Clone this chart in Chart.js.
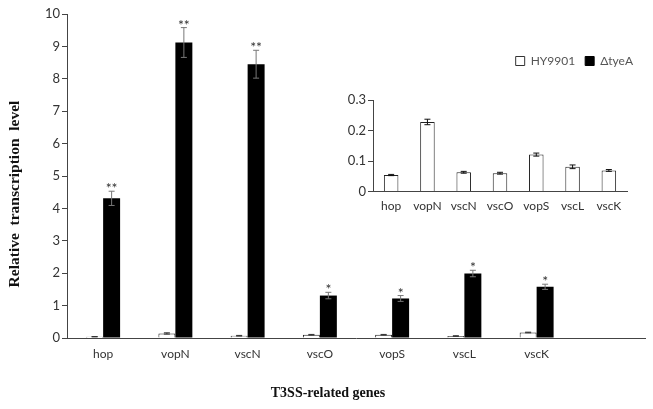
<!DOCTYPE html>
<html>
<head>
<meta charset="utf-8">
<script src="https://cdn.jsdelivr.net/npm/chart.js@4/dist/chart.umd.min.js"></script>
<style>
  body { margin: 0; background: #fff; }
  #wrap { position: relative; width: 653px; height: 409px; }
  #mainChart { position: absolute; left: 0; top: 0; }
  #insetChart { position: absolute; left: 330px; top: 40px; }
</style>
</head>
<body>
<div id="wrap">
  <canvas id="mainChart" width="653" height="409"></canvas>
  <canvas id="insetChart" width="313" height="175"></canvas>
</div>
<script>
// ---------- Data ----------
const genes = ["hop", "vopN", "vscN", "vscO", "vopS", "vscL", "vscK", ""];
const wildMain = [0.04, 0.14, 0.07, 0.10, 0.10, 0.06, 0.17];
const wildMainErr = [0.005, 0.02, 0.01, 0.01, 0.01, 0.01, 0.01];
const mutant = [4.31, 9.12, 8.45, 1.31, 1.22, 1.99, 1.58];
const mutantErr = [0.22, 0.46, 0.43, 0.10, 0.09, 0.10, 0.08];
const stars = ["**", "**", "**", "*", "*", "*", "*"];
const yTicksMain = [0, 1, 2, 3, 4, 5, 6, 7, 8, 9, 10];

const insetGenes = ["hop", "vopN", "vscN", "vscO", "vopS", "vscL", "vscK"];
const insetWild = [0.054, 0.228, 0.063, 0.060, 0.121, 0.081, 0.069];
const insetErr = [0.002, 0.009, 0.003, 0.003, 0.005, 0.006, 0.003];
const yTicksInset = [0, 0.1, 0.2, 0.3];

const TICK_FONT = { family: "Lato, 'Open Sans', sans-serif", size: 13 };
const CAT_FONT = { family: "Lato, 'Open Sans', sans-serif", size: 12 };

// empty axis used only as a spacer in the inset layout
const spacer = (size, pos) => ({
  type: "linear",
  position: pos,
  display: true,
  grid: { display: false, drawTicks: false },
  border: { display: false },
  ticks: { display: false },
  afterFit: (s) => {
    if (pos === "top") s.height = size; else s.width = size;
  }
});

// ---------- Error bars ----------
const errorBars = {
  id: "errorBars",
  afterDatasetsDraw(chart, args, opts) {
    const { ctx } = chart;
    const y = chart.scales.y;
    chart.data.datasets.forEach((ds, i) => {
      if (!ds.errors) return;
      const meta = chart.getDatasetMeta(i);
      meta.data.forEach((bar, j) => {
        const v = ds.data[j], e = ds.errors[j];
        if (v == null || !e) return;
        const top = y.getPixelForValue(v + e);
        const bot = y.getPixelForValue(Math.max(v - e, 0));
        const cap = opts.cap || 3;
        ctx.save();
        ctx.strokeStyle = ds.errorColor || "#555";
        ctx.lineWidth = 1;
        ctx.beginPath();
        ctx.moveTo(bar.x, top); ctx.lineTo(bar.x, bot);
        ctx.moveTo(bar.x - cap, top); ctx.lineTo(bar.x + cap, top);
        ctx.moveTo(bar.x - cap, bot); ctx.lineTo(bar.x + cap, bot);
        ctx.stroke();
        ctx.restore();
      });
    });
  }
};

// ---------- Significance stars + axis titles ----------
const mainDecor = {
  id: "mainDecor",
  afterDatasetsDraw(chart) {
    const { ctx } = chart;
    const y = chart.scales.y;
    const meta = chart.getDatasetMeta(1);
    ctx.save();
    ctx.fillStyle = "#333";
    ctx.font = "14px Lato, sans-serif";
    ctx.textAlign = "center";
    ctx.textBaseline = "alphabetic";
    meta.data.forEach((bar, j) => {
      if (!stars[j]) return;
      const top = y.getPixelForValue(mutant[j] + mutantErr[j]);
      ctx.fillText(stars[j], bar.x, top + 2);
    });
    ctx.restore();

    // axis titles
    ctx.save();
    ctx.fillStyle = "#111";
    ctx.font = "bold 14px 'Liberation Serif', 'Times New Roman', serif";
    ctx.textAlign = "center";
    ctx.textBaseline = "middle";
    ctx.fillText("T3SS-related genes", 328, 393);
    ctx.translate(15, 194);
    ctx.rotate(-Math.PI / 2);
    ctx.font = "bold 15.5px 'Liberation Serif', 'Times New Roman', serif";
    ctx.fillText("Relative  transcription  level", 0, 0);
    ctx.restore();
  }
};

// ---------- Main chart ----------
new Chart(document.getElementById("mainChart"), {
  type: "bar",
  data: {
    labels: genes,
    datasets: [
      {
        label: "HY9901",
        data: wildMain,
        errors: wildMainErr,
        errorColor: "#333",
        backgroundColor: "#fff",
        borderColor: "#222",
        borderWidth: 1
      },
      {
        label: "ΔtyeA",
        data: mutant,
        errors: mutantErr,
        errorColor: "#777",
        backgroundColor: "#000",
        borderColor: "#000",
        borderWidth: 0
      }
    ]
  },
  options: {
    responsive: false,
    animation: false,
    layout: { padding: { top: 14, right: 8, left: 0, bottom: 0 } },
    datasets: { bar: { categoryPercentage: 0.47, barPercentage: 1 } },
    plugins: {
      legend: { display: false },
      tooltip: { enabled: false },
      errorBars: { cap: 3 }
    },
    scales: {
      x: {
        afterFit: (s) => { s.height = 71; },
        grid: { display: false, drawTicks: false },
        border: { display: true, color: "#444", width: 1 },
        ticks: { color: "#333", font: CAT_FONT, padding: 9, maxRotation: 0, autoSkip: false }
      },
      y: {
        min: 0,
        max: 10,
        afterFit: (s) => { s.width = 67; },
        afterBuildTicks: (s) => { s.ticks = yTicksMain.map((v) => ({ value: v })); },
        grid: { drawOnChartArea: false, drawTicks: true, tickLength: 5, color: "#444" },
        border: { display: true, color: "#444", width: 1 },
        ticks: { color: "#333", font: TICK_FONT, padding: 2 }
      }
    }
  },
  plugins: [errorBars, mainDecor]
});

// ---------- Inset chart ----------
new Chart(document.getElementById("insetChart"), {
  type: "bar",
  data: {
    labels: insetGenes,
    datasets: [
      {
        label: "HY9901",
        data: insetWild,
        errors: insetErr,
        errorColor: "#111",
        backgroundColor: "#fff",
        borderColor: "#222",
        borderWidth: 1,
        xAxisID: "x",
        yAxisID: "y"
      },
      {
        label: "ΔtyeA",
        data: insetGenes.map(() => null),
        backgroundColor: "#000",
        borderColor: "#000",
        borderWidth: 0,
        xAxisID: "x",
        yAxisID: "y"
      }
    ]
  },
  options: {
    responsive: false,
    animation: false,
    layout: { padding: { top: 5, right: 0, left: 0, bottom: 0 } },
    datasets: { bar: { grouped: false, categoryPercentage: 0.4, barPercentage: 1 } },
    plugins: {
      legend: {
        position: "top",
        align: "end",
        labels: {
          color: "#555",
          font: { family: "Lato, 'Open Sans', sans-serif", size: 12 },
          boxWidth: 9,
          boxHeight: 9,
          padding: 10,
          generateLabels: (chart) => chart.data.datasets.map((ds, i) => ({
            text: ds.label,
            fillStyle: ds.backgroundColor,
            strokeStyle: i === 0 ? "#333" : "#000",
            lineWidth: 1,
            fontColor: "#555",
            datasetIndex: i
          }))
        }
      },
      tooltip: { enabled: false },
      errorBars: { cap: 3 }
    },
    scales: {
      x: {
        afterFit: (s) => { s.height = 23.5; },
        grid: { display: false, drawTicks: false },
        border: { display: true, color: "#444", width: 1 },
        ticks: { color: "#333", font: CAT_FONT, padding: 7, maxRotation: 0, autoSkip: false }
      },
      y: {
        min: 0,
        max: 0.3,
        afterFit: (s) => { s.width = 43; },
        afterBuildTicks: (s) => { s.ticks = yTicksInset.map((v) => ({ value: v })); },
        grid: { drawOnChartArea: false, drawTicks: true, tickLength: 5, color: "#444" },
        border: { display: true, color: "#444", width: 1 },
        ticks: {
          color: "#333",
          font: TICK_FONT,
          padding: 2,
          callback: (v) => (v === 0 ? "0" : v.toFixed(1))
        }
      },
      gapTop: spacer(23, "top"),
      gapRight: spacer(16, "right")
    }
  },
  plugins: [errorBars]
});
</script>
</body>
</html>
